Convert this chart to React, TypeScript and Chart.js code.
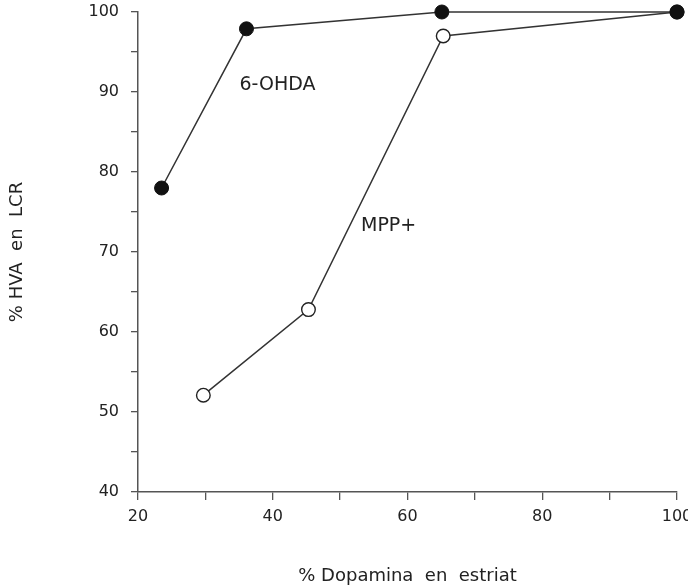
import React, { useEffect, useRef } from "react";
import { Chart, registerables } from "chart.js";

Chart.register(...registerables);

// Data
const ohdaX = [23.5, 36.1, 65.1, 100];
const ohdaY = [78, 97.9, 100, 100];
const mppX = [29.7, 45.3, 65.3, 100];
const mppY = [52.1, 62.8, 97.0, 100];

const xTickStep = 10;
const xLabelEvery = 20;
const yTickStep = 5;
const yLabelEvery = 10;

const seriesNames = ["6-OHDA", "MPP+"];
const seriesLabelX = [40.7, 57.2];
const seriesLabelY = [90.9, 73.3];

const xTitle = "% Dopamina  en  estriat";
const yTitle = "% HVA  en  LCR";

const textColor = "#222";
const axisColor = "#555";
const FONT = "'DejaVu Sans', 'Noto Sans', sans-serif";

const labelPlugin = {
  id: "seriesLabels",
  afterDatasetsDraw(chart: any) {
    const { ctx, scales } = chart;
    ctx.save();
    ctx.fillStyle = textColor;
    ctx.font = `19px ${FONT}`;
    ctx.textAlign = "center";
    ctx.textBaseline = "middle";
    seriesNames.forEach((name, i) => {
      const px = scales.x.getPixelForValue(seriesLabelX[i]);
      const py = scales.y.getPixelForValue(seriesLabelY[i]);
      ctx.fillText(name, px, py);
    });
    ctx.restore();
  },
};

export default function App() {
  const ref = useRef<HTMLCanvasElement | null>(null);

  useEffect(() => {
    if (!ref.current) return;
    const chart = new Chart(ref.current, {
      type: "scatter",
      data: {
        datasets: [
          {
            label: seriesNames[0],
            data: ohdaX.map((x, i) => ({ x, y: ohdaY[i] })),
            showLine: true,
            borderColor: "#333",
            borderWidth: 1.5,
            pointRadius: 7,
            pointBackgroundColor: "#111",
            pointBorderColor: "#111",
            pointBorderWidth: 1,
            clip: false,
          } as any,
          {
            label: seriesNames[1],
            data: mppX.map((x, i) => ({ x, y: mppY[i] })),
            showLine: true,
            borderColor: "#333",
            borderWidth: 1.5,
            pointRadius: 6.8,
            pointBackgroundColor: "#fff",
            pointBorderColor: "#222",
            pointBorderWidth: 1.4,
            clip: false,
          } as any,
        ],
      },
      options: {
        animation: false,
        responsive: true,
        maintainAspectRatio: false,
        layout: { padding: { top: 12, right: 11, left: 0, bottom: 0 } },
        plugins: {
          legend: { display: false },
          tooltip: { enabled: false },
        },
        scales: {
          x: {
            type: "linear",
            min: 20,
            max: 100,
            grid: {
              display: true,
              drawOnChartArea: false,
              drawTicks: true,
              tickLength: 8,
              color: axisColor,
              lineWidth: 1.3,
            },
            border: { display: true, color: axisColor, width: 1.5 },
            ticks: {
              stepSize: xTickStep,
              autoSkip: false,
              maxRotation: 0,
              color: textColor,
              font: { size: 16, family: FONT },
              padding: 7,
              callback: (v: any) => (Number(v) % xLabelEvery === 0 ? String(v) : ""),
            },
            title: {
              display: true,
              text: xTitle,
              color: textColor,
              font: { size: 18, family: FONT },
              padding: { top: 0, bottom: 1 },
            },
            afterFit: (s: any) => {
              s.height = 96;
              s.paddingLeft = 0;
              s.paddingRight = 0;
            },
          },
          y: {
            type: "linear",
            min: 40,
            max: 100,
            grid: {
              display: true,
              drawOnChartArea: false,
              drawTicks: true,
              tickLength: 7,
              color: axisColor,
              lineWidth: 1.3,
            },
            border: { display: true, color: axisColor, width: 1.5 },
            ticks: {
              stepSize: yTickStep,
              autoSkip: false,
              color: textColor,
              font: { size: 16, family: FONT },
              padding: 12,
              callback: (v: any) => (Number(v) % yLabelEvery === 0 ? String(v) : ""),
            },
            title: {
              display: true,
              text: yTitle,
              color: textColor,
              font: { size: 18, family: FONT },
              padding: { top: 7, bottom: 0 },
            },
            afterFit: (s: any) => {
              s.width = 138;
              s.paddingTop = 0;
              s.paddingBottom = 0;
            },
          },
        },
      },
      plugins: [labelPlugin],
    });
    return () => chart.destroy();
  }, []);

  return (
    <div
      style={{
        position: "fixed",
        left: 0,
        top: 0,
        width: 688,
        height: 588,
        background: "#fff",
      }}
    >
      <canvas ref={ref} />
    </div>
  );
}
